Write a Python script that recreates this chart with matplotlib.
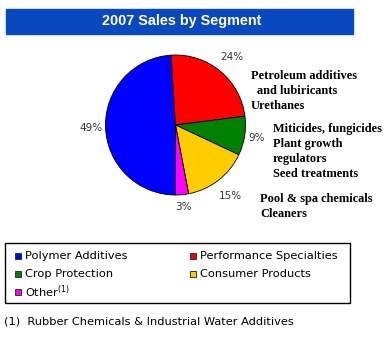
import matplotlib.pyplot as plt
from matplotlib.patches import Rectangle
import numpy as np

W, H = 391, 346

segments = ['Polymer Additives', 'Performance Specialties', 'Crop Protection',
            'Consumer Products', 'Other$^{(1)}$']
shares = [49, 24, 9, 15, 3]
colors = ['#0000FF', '#FF0000', '#008000', '#FFCC00', '#FF00FF']
# distance of each percent label from the centre, in radii
pct_dist = [1.21, 1.26, 1.17, 1.28, 1.18]

notes = [
    (251, 76, 'Petroleum additives'),
    (257, 91, 'and lubiricants'),
    (251, 106, 'Urethanes'),
    (273, 129, 'Miticides, fungicides'),
    (273, 144, 'Plant growth'),
    (273, 159, 'regulators'),
    (273, 174, 'Seed treatments'),
    (260, 199, 'Pool & spa chemicals'),
    (260, 214, 'Cleaners'),
]
footnote = '(1)  Rubber Chemicals & Industrial Water Additives'


def fx(x):
    return x / W


def fy(y):
    return 1 - y / H


fig = plt.figure(figsize=(W / 100, H / 100), dpi=100)

# title bar
fig.patches.append(Rectangle((fx(6), fy(34)), fx(347), 25 / H,
                             transform=fig.transFigure, color='#0A48C0', zorder=0))
fig.text(fx(182), fy(21.5), '2007 Sales by Segment', color='white',
         fontsize=10.4, fontweight='bold', family='Liberation Sans',
         ha='center', va='center')

# pie
cx, cy, r = 175.5, 125, 70
ax = fig.add_axes([fx(cx - r), fy(cy + r), 2 * r / W, 2 * r / H])
wedges, _ = ax.pie(shares, colors=colors, startangle=270, counterclock=False,
                   wedgeprops=dict(edgecolor='black', linewidth=0.6))
ax.set_xlim(-1, 1)
ax.set_ylim(-1, 1)
ax.set_aspect('auto')
ax.axis('off')

for w, v, d in zip(wedges, shares, pct_dist):
    a = np.deg2rad((w.theta1 + w.theta2) / 2)
    ax.text(d * np.cos(a), d * np.sin(a), f'{v}%', fontsize=7.5,
            ha='center', va='center', color='#333333', clip_on=False)

for x, y, s in notes:
    fig.text(fx(x), fy(y), s, fontsize=8.9, fontweight='bold',
             family='Liberation Serif', va='center')

# legend box
fig.patches.append(Rectangle((fx(5), fy(303)), fx(345), 60 / H,
                             transform=fig.transFigure, facecolor='white',
                             edgecolor='black', linewidth=1.0))
slots = [(15, 256), (190, 256), (15, 274), (190, 274), (15, 292)]
for (x, y), lab, c in zip(slots, segments, colors):
    fig.patches.append(Rectangle((fx(x), fy(y + 3)), 6 / W, 6 / H,
                                 transform=fig.transFigure, facecolor=c,
                                 edgecolor='#333333', linewidth=0.7))
    fig.text(fx(x + 10), fy(y), lab, fontsize=8.2, va='center')

fig.text(fx(4), fy(322), footnote, fontsize=8.2, va='center')

fig.savefig('out.png', dpi=100)
